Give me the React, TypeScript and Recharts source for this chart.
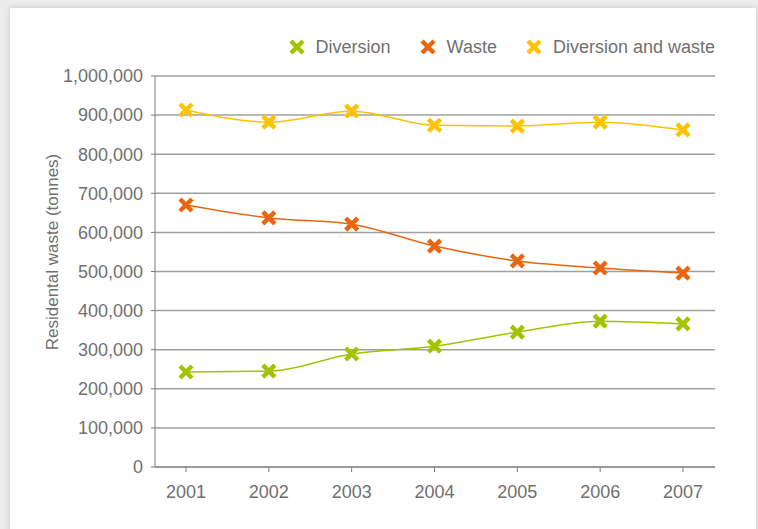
import { LineChart, Line, XAxis, YAxis, CartesianGrid } from 'recharts';

const years = ['2001', '2002', '2003', '2004', '2005', '2006', '2007'];
const diversion = [243000, 245000, 289000, 309000, 345000, 373000, 366000];
const waste = [670000, 637000, 621000, 565000, 527000, 509000, 496000];
const diversionAndWaste = [913000, 882000, 910000, 874000, 872000, 882000, 862000];
const yTicks = [0, 100000, 200000, 300000, 400000, 500000, 600000, 700000, 800000, 900000, 1000000];

const SERIES = [
  { key: 'diversion', name: 'Diversion', color: '#a2c300' },
  { key: 'waste', name: 'Waste', color: '#e8660f' },
  { key: 'total', name: 'Diversion and waste', color: '#fdc300' },
];

const data = years.map((year, i) => ({
  year,
  diversion: diversion[i],
  waste: waste[i],
  total: diversionAndWaste[i],
}));

const FONT = '"Liberation Sans", Arial, sans-serif';
const TEXT = '#707070';

function XMark({ cx, cy, color, size = 6 }: { cx: number; cy: number; color: string; size?: number }) {
  return (
    <g>
      <line x1={cx - size} y1={cy - size} x2={cx + size} y2={cy + size} stroke={color} strokeWidth={4.5} />
      <line x1={cx - size} y1={cy + size} x2={cx + size} y2={cy - size} stroke={color} strokeWidth={4.5} />
    </g>
  );
}

function makeDot(color: string) {
  return (props: any) => <XMark key={props.index} cx={props.cx} cy={props.cy} color={color} />;
}

// legend sits above the plot, right-aligned with the grid
function ChartLegend() {
  return (
    <div
      style={{
        position: 'absolute',
        top: 36,
        right: 43,
        display: 'flex',
        alignItems: 'center',
        fontFamily: FONT,
        fontSize: 18,
        color: TEXT,
        lineHeight: '22px',
      }}
    >
      {SERIES.map((s, i) => (
        <div key={s.key} style={{ display: 'flex', alignItems: 'center', marginLeft: i === 0 ? 0 : 28 }}>
          <svg width={18} height={18} style={{ marginRight: 10 }}>
            <XMark cx={9} cy={9} color={s.color} />
          </svg>
          <span>{s.name}</span>
        </div>
      ))}
    </div>
  );
}

const fmt = (v: number) => v.toLocaleString('en-US');

export default function App() {
  return (
    <div style={{ position: 'absolute', left: 0, top: 0, width: 758, height: 529, background: '#ececec', overflow: 'hidden' }}>
      <div
        style={{
          position: 'absolute',
          left: 10,
          top: 8,
          width: 746,
          height: 600,
          background: '#fff',
          boxShadow: '0 0 6px rgba(0,0,0,0.18)',
        }}
      />
      <div style={{ position: 'absolute', left: 0, top: 0 }}>
        <LineChart width={758} height={529} data={data} margin={{ top: 76, right: 43, bottom: 32, left: 0 }}>
          <CartesianGrid vertical={false} stroke="#a0a0a0" strokeWidth={1.5} />
          <XAxis
            dataKey="year"
            height={30}
            padding={{ left: 31, right: 32 }}
            stroke="#7a7a7a"
            tickSize={5}
            tickMargin={13}
            tick={{ fill: TEXT, fontSize: 18, fontFamily: FONT }}
          />
          <YAxis
            width={155}
            domain={[0, 1000000]}
            ticks={yTicks}
            tickFormatter={fmt}
            stroke="#7a7a7a"
            tickSize={4}
            tickMargin={8}
            tick={{ fill: TEXT, fontSize: 18, fontFamily: FONT }}
            label={{
              content: () => (
                <text
                  x={58}
                  y={252}
                  transform="rotate(-90, 58, 252)"
                  textAnchor="middle"
                  fill={TEXT}
                  fontSize={17}
                  fontFamily={FONT}
                >
                  Residental waste (tonnes)
                </text>
              ),
            }}
          />
          {SERIES.map((s) => (
            <Line
              key={s.key}
              type="monotone"
              dataKey={s.key}
              name={s.name}
              stroke={s.color}
              strokeWidth={1.5}
              dot={makeDot(s.color)}
              activeDot={false}
              isAnimationActive={false}
            />
          ))}
        </LineChart>
      </div>
      <ChartLegend />
    </div>
  );
}
